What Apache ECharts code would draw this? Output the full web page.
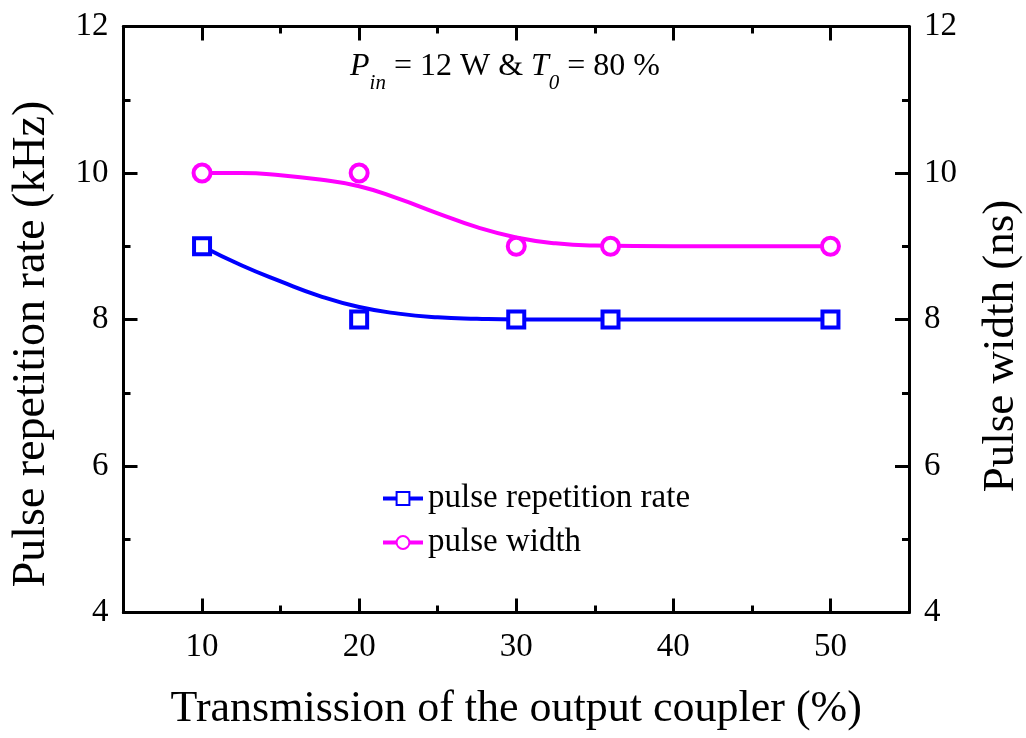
<!DOCTYPE html>
<html>
<head>
<meta charset="utf-8">
<script src="https://cdn.jsdelivr.net/npm/echarts@6/dist/echarts.min.js"></script>
<style>
html,body{margin:0;padding:0;background:#fff;}
#chart{width:1026px;height:738px;}
</style>
</head>
<body>
<div id="chart"></div>
<script>
// ---- data ----
var transmission = [10, 20, 30, 36, 50];
var repRate = [9, 8, 8, 8, 8];          // kHz
var pulseWidth = [10, 10, 9, 9, 9];      // ns

// smooth fitted curves as drawn in the reference
var curveT = [10, 12.5, 15, 17.5, 20, 22.5, 25, 27.5, 30, 32.5, 35, 40, 45, 50];
var repRateCurve = [9.0, 8.74, 8.52, 8.32, 8.17, 8.08, 8.03, 8.01, 8.0, 8.0, 8.0, 8.0, 8.0, 8.0];
var widthCurve = [10.0, 10.0, 9.97, 9.91, 9.82, 9.65, 9.45, 9.26, 9.12, 9.04, 9.01, 9.0, 9.0, 9.0];

var xMajorTicks = [10, 20, 30, 40, 50];
var xMinorTicks = [15, 25, 35, 45];

var pair = function (xs, ys) { return xs.map(function (x, i) { return [x, ys[i]]; }); };

var FONT = '"Liberation Serif","Times New Roman",serif';
var BLUE = '#0000ff', MAG = '#ff00ff';

var chart = echarts.init(document.getElementById('chart'));

function xAx(pos, major, withLabel) {
  return {
    type: 'value', min: 5, max: 55, position: pos, offset: 0,
    axisLine: { show: true, onZero: false, lineStyle: { color: '#000', width: 3 } },
    axisTick: { show: true, inside: true, length: major ? 14 : 7, customValues: major ? xMajorTicks : xMinorTicks,
      lineStyle: { color: '#000', width: 3 } },
    axisLabel: withLabel ? { show: true, customValues: xMajorTicks, margin: 18, color: '#000', fontFamily: FONT, fontSize: 33 } : { show: false },
    splitLine: { show: false },
    name: withLabel ? 'Transmission of the output coupler (%)' : '',
    nameLocation: 'middle', nameGap: 75,
    nameTextStyle: { color: '#000', fontFamily: FONT, fontSize: 44 }
  };
}
function yAx(pos, withLabel) {
  return {
    type: 'value', min: 4, max: 12, interval: 2, position: pos,
    axisLine: { show: true, onZero: false, lineStyle: { color: '#000', width: 3 } },
    axisTick: { show: true, inside: true, length: 14, lineStyle: { color: '#000', width: 3 } },
    minorTick: { show: true, splitNumber: 2, length: 7, lineStyle: { color: '#000', width: 3 } },
    axisLabel: { show: withLabel, margin: 15, color: '#000', fontFamily: FONT, fontSize: 33 },
    splitLine: { show: false }
  };
}

var option = {
  animation: false,
  backgroundColor: '#fff',
  grid: { left: 123.5, right: 117, top: 26.5, bottom: 125.5 },
  xAxis: [xAx('bottom', true, true), xAx('bottom', false, false), xAx('top', true, false), xAx('top', false, false)],
  yAxis: [yAx('left', true), yAx('right', true)],
  legend: {
    orient: 'vertical', left: 376, top: 477, itemGap: 11, itemWidth: 40, itemHeight: 16,
    data: ['pulse repetition rate', 'pulse width'],
    textStyle: { color: '#000', fontFamily: FONT, fontSize: 33 },
    lineStyle: { width: 4, opacity: 1 }
  },
  graphic: [
    { type: 'text', x: 32, y: 344, rotation: Math.PI / 2,
      style: { text: 'Pulse repetition rate (kHz)', fill: '#000', font: '46px ' + FONT, textAlign: 'center', textVerticalAlign: 'middle' } },
    { type: 'text', x: 1001, y: 346, rotation: Math.PI / 2,
      style: { text: 'Pulse width (ns)', fill: '#000', font: '45px ' + FONT, textAlign: 'center', textVerticalAlign: 'middle' } },
    { type: 'text', x: 350, y: 51,
      style: {
        text: '{p|P}{s|in}{n| = 12 W & }{p|T}{s|0}{n| = 80 %}',
        fill: '#000',
        rich: {
          p: { fontFamily: FONT, fontStyle: 'italic', fontSize: 32, lineHeight: 28, verticalAlign: 'top', fill: '#000' },
          n: { fontFamily: FONT, fontSize: 32, lineHeight: 28, verticalAlign: 'top', fill: '#000' },
          s: { fontFamily: FONT, fontStyle: 'italic', fontSize: 21, lineHeight: 20, padding: [22, 0, 0, 0], verticalAlign: 'top', fill: '#000' }
        }
      } }
  ],
  series: [
    { name: 'rate-fit', type: 'line', xAxisIndex: 0, yAxisIndex: 0, data: pair(curveT, repRateCurve),
      smooth: 0.5, showSymbol: false, symbol: 'none', lineStyle: { color: BLUE, width: 4 }, z: 2 },
    { name: 'width-fit', type: 'line', xAxisIndex: 0, yAxisIndex: 1, data: pair(curveT, widthCurve),
      smooth: 0.5, showSymbol: false, symbol: 'none', lineStyle: { color: MAG, width: 4 }, z: 2 },
    { name: 'pulse repetition rate', type: 'line', xAxisIndex: 0, yAxisIndex: 0, data: pair(transmission, repRate),
      symbol: 'rect', symbolSize: 16, color: BLUE,
      itemStyle: { color: '#fff', borderColor: BLUE, borderWidth: 4 },
      lineStyle: { color: BLUE, width: 4, opacity: 0 }, z: 5 },
    { name: 'pulse width', type: 'line', xAxisIndex: 0, yAxisIndex: 1, data: pair(transmission, pulseWidth),
      symbol: 'circle', symbolSize: 17, color: MAG,
      itemStyle: { color: '#fff', borderColor: MAG, borderWidth: 4 },
      lineStyle: { color: MAG, width: 4, opacity: 0 }, z: 5 }
  ]
};
chart.setOption(option);
</script>
</body>
</html>
